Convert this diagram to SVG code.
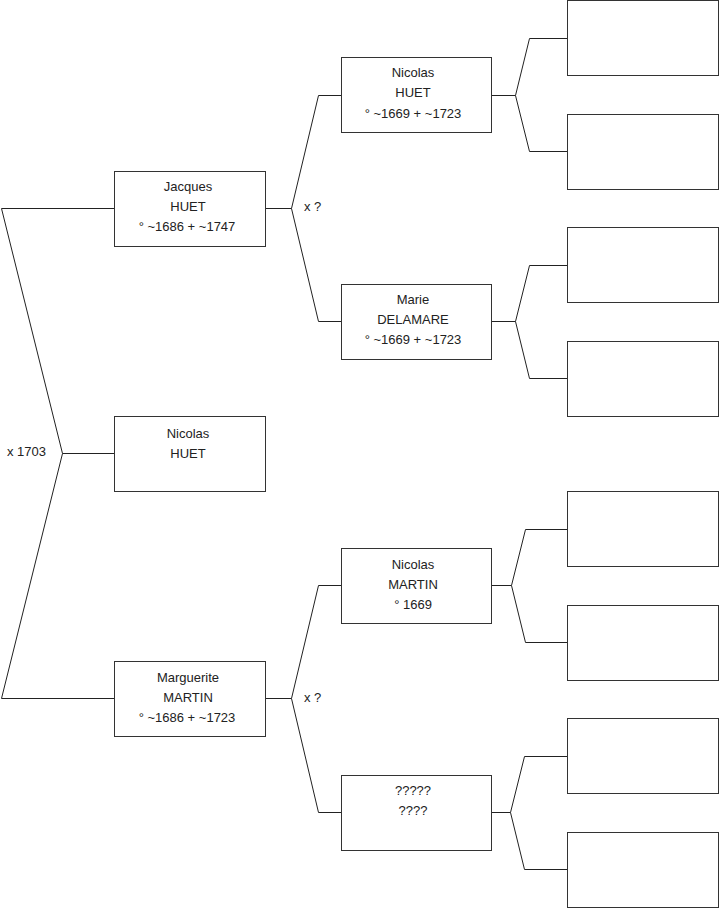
<svg xmlns="http://www.w3.org/2000/svg" width="719" height="908" viewBox="0 0 719 908">
<style>
.b{fill:#fff;stroke:#333;stroke-width:1}
.c{fill:none;stroke:#222;stroke-width:1}
text{font-family:"Liberation Sans",Arial,sans-serif;font-size:13px;fill:#222;stroke:none;text-anchor:middle}
.l{text-anchor:start}
</style>
<rect width="719" height="908" fill="#fff"/>
<g id="connectors">
<polyline class="c" points="114.5,208.5 1.5,208.5 62.5,453.5 1.5,698.5 114.5,698.5"/>
<line class="c" x1="62.5" y1="453.5" x2="114.5" y2="453.5"/>
<polyline class="c" points="341.5,95.5 318.5,95.5 291.5,208.5 318.5,321.5 341.5,321.5"/>
<line class="c" x1="265.5" y1="208.5" x2="291.5" y2="208.5"/>
<polyline class="c" points="341.5,585.5 318.5,585.5 291.5,698.5 318.5,812.5 341.5,812.5"/>
<line class="c" x1="265.5" y1="698.5" x2="291.5" y2="698.5"/>
<polyline class="c" points="567.5,38.5 529.5,38.5 515.5,95.5 529.5,151.5 567.5,151.5"/>
<line class="c" x1="491.5" y1="95.5" x2="515.5" y2="95.5"/>
<polyline class="c" points="567.5,265.5 529.5,265.5 515.5,321.5 529.5,378.5 567.5,378.5"/>
<line class="c" x1="491.5" y1="321.5" x2="515.5" y2="321.5"/>
<polyline class="c" points="567.5,529.5 525.5,529.5 511.5,585.5 525.5,642.5 567.5,642.5"/>
<line class="c" x1="491.5" y1="585.5" x2="511.5" y2="585.5"/>
<polyline class="c" points="567.5,756.5 524.5,756.5 510.5,812.5 524.5,869.5 567.5,869.5"/>
<line class="c" x1="491.5" y1="812.5" x2="510.5" y2="812.5"/>
<text class="l" x="7" y="456">x 1703</text>
<text class="l" x="304" y="211">x ?</text>
<text class="l" x="304" y="702">x ?</text>
</g>
<g id="jacques"><rect class="b" x="114.5" y="171.5" width="151" height="75"/><text x="188" y="191">Jacques</text><text x="188" y="211">HUET</text><text x="187" y="231">° ~1686 + ~1747</text></g>
<g id="nicolas-huet-1"><rect class="b" x="114.5" y="416.5" width="151" height="75"/><text x="188" y="438">Nicolas</text><text x="188" y="458">HUET</text></g>
<g id="marguerite"><rect class="b" x="114.5" y="661.5" width="151" height="75"/><text x="188" y="682">Marguerite</text><text x="188" y="702">MARTIN</text><text x="187" y="722">° ~1686 + ~1723</text></g>
<g id="nicolas-huet-2"><rect class="b" x="341.5" y="57.5" width="150" height="75"/><text x="413" y="77">Nicolas</text><text x="413" y="97">HUET</text><text x="413" y="118">° ~1669 + ~1723</text></g>
<g id="marie"><rect class="b" x="341.5" y="284.5" width="150" height="75"/><text x="413" y="304">Marie</text><text x="413" y="324">DELAMARE</text><text x="413" y="344">° ~1669 + ~1723</text></g>
<g id="nicolas-martin"><rect class="b" x="341.5" y="548.5" width="150" height="75"/><text x="413" y="569">Nicolas</text><text x="413" y="589">MARTIN</text><text x="413" y="609">° 1669</text></g>
<g id="unknown"><rect class="b" x="341.5" y="775.5" width="150" height="75"/><text x="413" y="795">?????</text><text x="413" y="815">????</text></g>
<g id="p1"><rect class="b" x="567.5" y="0.5" width="151" height="75"/></g>
<g id="p2"><rect class="b" x="567.5" y="114.5" width="151" height="75"/></g>
<g id="p3"><rect class="b" x="567.5" y="227.5" width="151" height="75"/></g>
<g id="p4"><rect class="b" x="567.5" y="341.5" width="151" height="75"/></g>
<g id="p5"><rect class="b" x="567.5" y="491.5" width="151" height="75"/></g>
<g id="p6"><rect class="b" x="567.5" y="605.5" width="151" height="75"/></g>
<g id="p7"><rect class="b" x="567.5" y="718.5" width="151" height="75"/></g>
<g id="p8"><rect class="b" x="567.5" y="832.5" width="151" height="75"/></g>
</svg>
